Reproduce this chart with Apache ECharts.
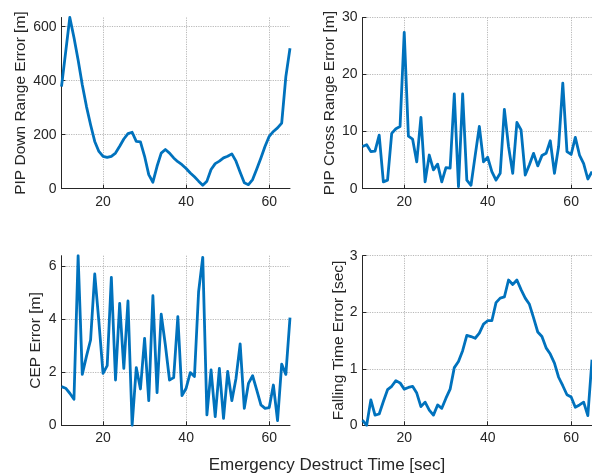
<!DOCTYPE html>
<html>
<head>
<meta charset="utf-8">
<script src="https://cdn.jsdelivr.net/npm/echarts@6/dist/echarts.min.js"></script>
<style>
  html, body { margin: 0; padding: 0; background: #ffffff; }
  #chart { width: 592px; height: 475px; }
</style>
</head>
<body>
<div id="chart"></div>
<script>
// Emergency destruct time [sec]
const timeSec = [10, 11, 12, 13, 14, 15, 16, 17, 18, 19,
                 20, 21, 22, 23, 24, 25, 26, 27, 28, 29,
                 30, 31, 32, 33, 34, 35, 36, 37, 38, 39,
                 40, 41, 42, 43, 44, 45, 46, 47, 48, 49,
                 50, 51, 52, 53, 54, 55, 56, 57, 58, 59,
                 60, 61, 62, 63, 64, 65];

// PIP down range error [m]
const downRangeErr = [378, 506, 634, 560, 477, 385, 305, 237, 175, 138,
                      120, 116, 120, 132, 157, 184, 204, 209, 175, 173,
                      120, 52, 24, 83, 132, 145, 132, 114, 100, 89,
                      75, 58, 44, 28, 13, 28, 71, 93, 102, 114,
                      120, 129, 102, 61, 22, 15, 34, 73, 114, 157,
                      194, 212, 225, 243, 415, 520];

// PIP cross range error [m]
const crossRangeErr = [7.4, 7.7, 6.5, 6.6, 9.4, 1.2, 1.5, 9.7, 10.5, 10.9,
                       27.4, 9.2, 8.7, 4.7, 12.5, 1.2, 5.9, 3.3, 4.3, 1.2,
                       3.7, 3.6, 16.6, 0.35, 16.6, 1.5, 0.6, 5.8, 10.9, 4.7,
                       5.5, 3.0, 1.5, 2.7, 13.9, 7.4, 2.7, 11.6, 10.3, 2.4,
                       4.2, 6.2, 4.0, 5.8, 6.2, 8.4, 2.7, 7.4, 18.5, 6.5,
                       6.0, 9.0, 5.9, 4.4, 1.7, 3.0];

// CEP error [m]
const cepErr = [1.46, 1.40, 1.21, 0.98, 6.40, 1.92, 2.6, 3.22, 5.71, 3.9,
                1.96, 2.25, 5.58, 1.71, 4.6, 2.15, 4.69, 0.0, 2.18, 1.37,
                3.28, 0.93, 4.89, 1.23, 4.19, 3.03, 1.71, 1.80, 4.1, 1.12,
                1.40, 1.99, 1.84, 5.04, 6.34, 0.39, 2.09, 0.33, 2.15, 0.26,
                2.03, 0.93, 1.77, 3.07, 0.64, 1.58, 1.87, 1.33, 0.77, 0.64,
                0.67, 1.52, 0.18, 2.31, 1.92, 4.06];

// Falling time error [sec]
const fallTimeErr = [0.09, 0.0, 0.45, 0.18, 0.2, 0.42, 0.63, 0.69, 0.79, 0.75,
                     0.64, 0.67, 0.69, 0.57, 0.33, 0.41, 0.27, 0.18, 0.36, 0.30,
                     0.48, 0.64, 1.02, 1.13, 1.32, 1.59, 1.57, 1.54, 1.63, 1.79,
                     1.85, 1.85, 2.17, 2.25, 2.27, 2.57, 2.49, 2.57, 2.40, 2.25,
                     2.14, 1.90, 1.65, 1.57, 1.37, 1.26, 1.10, 0.85, 0.70, 0.54,
                     0.50, 0.32, 0.36, 0.41, 0.17, 1.16];

// Tick positions
const xTicks = [20, 40, 60];
const downRangeTicks = [0, 200, 400, 600];
const crossRangeTicks = [0, 10, 20, 30];
const cepTicks = [0, 2, 4, 6];
const fallTimeTicks = [0, 1, 2, 3];

const panelTitles = ['PIP Down Range Error [m]', 'PIP Cross Range Error [m]',
                     'CEP Error [m]', 'Falling Time Error [sec]'];
const xTitle = 'Emergency Destruct Time [sec]';

const FONT = '"Liberation Sans", Arial, Helvetica, sans-serif';
const INK = '#262626';
const LINE = '#0072BD';

const grids = [
  { left: 61.5, top: 17.5, width: 228.5, height: 171.2 },
  { left: 362.5, top: 17.5, width: 229.5, height: 171.2 },
  { left: 61.5, top: 255.7, width: 228.5, height: 169.6 },
  { left: 362.5, top: 255.7, width: 229.5, height: 169.6 }
];

const panels = [
  { data: downRangeErr, ticks: downRangeTicks, min: 0, max: Math.max(...downRangeErr), gap: 33 },
  { data: crossRangeErr, ticks: crossRangeTicks, min: 0, max: 30, gap: 25 },
  { data: cepErr, ticks: cepTicks, min: 0, max: Math.max(...cepErr), gap: 18 },
  { data: fallTimeErr, ticks: fallTimeTicks, min: 0, max: 3, gap: 16 }
];

const splitStyle = { show: true, lineStyle: { color: '#b8b8b8', type: [1.2, 1.2], width: 1 } };
const axisLineStyle = { show: true, onZero: false, lineStyle: { color: INK, width: 1 } };
const labelStyle = { color: INK, fontFamily: FONT, fontSize: 14 };

const xAxes = panels.map((p, i) => ({
  type: 'value', gridIndex: i, min: 10, max: 65,
  axisLine: axisLineStyle,
  axisTick: { show: true, inside: true, length: 4, customValues: xTicks, lineStyle: { color: INK } },
  axisLabel: Object.assign({ customValues: xTicks, margin: 6 }, labelStyle),
  splitLine: splitStyle
}));

const yAxes = panels.map((p, i) => ({
  type: 'value', gridIndex: i, min: p.min, max: p.max,
  name: panelTitles[i], nameLocation: 'middle', nameGap: p.gap, nameRotate: 90,
  nameMoveOverlap: false,
  nameTextStyle: { color: INK, fontFamily: FONT, fontSize: 15.5 },
  axisLine: axisLineStyle,
  axisTick: { show: true, inside: true, length: 4, customValues: p.ticks, lineStyle: { color: INK } },
  axisLabel: Object.assign({ customValues: p.ticks, margin: 5 }, labelStyle),
  splitLine: splitStyle
}));

const series = panels.map((p, i) => ({
  type: 'line', xAxisIndex: i, yAxisIndex: i,
  data: timeSec.map((t, k) => [t, p.data[k]]),
  showSymbol: false, symbol: 'none',
  lineStyle: { color: LINE, width: 2.8, join: 'round' },
  clip: true, animation: false
}));

const chart = echarts.init(document.getElementById('chart'), null, { renderer: 'canvas' });
chart.setOption({
  animation: false,
  backgroundColor: '#ffffff',
  grid: grids.map(g => Object.assign({ containLabel: false }, g)),
  xAxis: xAxes,
  yAxis: yAxes,
  series: series,
  graphic: [{
    type: 'text', x: 327, y: 465,
    style: { text: xTitle, fill: INK, font: '17px ' + FONT, align: 'center', verticalAlign: 'middle' }
  }]
});
</script>
</body>
</html>
